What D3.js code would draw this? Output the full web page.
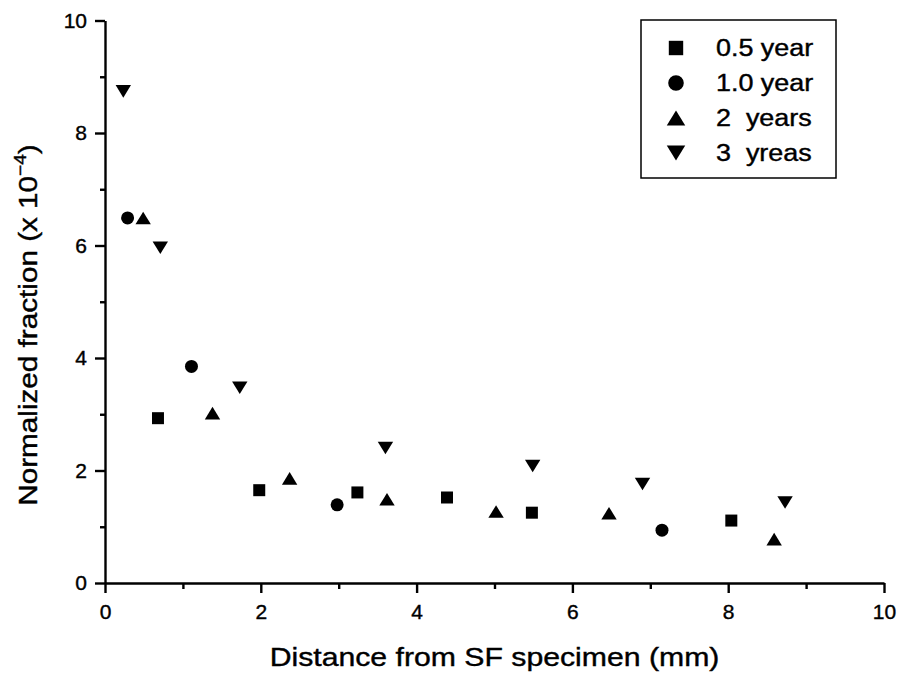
<!DOCTYPE html>
<html>
  <head>
    <title>Normalized fraction vs distance</title>
    <script src="https://d3js.org/d3.v7.min.js"></script>
    <style>
      body { margin: 0; background: #fff; }
      text { font-family: "Liberation Sans", Arial, sans-serif; fill: #000; stroke: #000; stroke-width: 0.4px; }
    </style>
  </head>
  <body>
    <div id="chart"></div>
    <script>
      // series values (x = mm, y = x 10^-4)
      const seriesNames = ["0.5 year", "1.0 year", "2  years", "3  yreas"];
      const halfYearX = [0.68, 1.98, 3.24, 4.39, 5.48, 8.04];
      const halfYearY = [2.93, 1.65, 1.61, 1.52, 1.25, 1.11];
      const oneYearX = [0.29, 1.11, 2.98, 7.15];
      const oneYearY = [6.49, 3.85, 1.39, 0.94];
      const twoYearX = [0.49, 1.38, 2.37, 3.62, 5.02, 6.47, 8.59];
      const twoYearY = [6.49, 3.02, 1.86, 1.49, 1.27, 1.24, 0.78];
      const threeYearX = [0.235, 0.71, 1.73, 3.60, 5.49, 6.90, 8.73];
      const threeYearY = [8.74, 5.96, 3.47, 2.40, 2.08, 1.76, 1.43];
      const majorTicks = [0, 2, 4, 6, 8, 10];
      const minorTicks = [1, 3, 5, 7, 9];

      const width = 899,
        height = 674;
      const plotLeft = 105,
        plotRight = 884,
        plotTop = 20.5,
        plotBottom = 583;

      const svg = d3
        .select("#chart")
        .append("svg")
        .attr("width", width)
        .attr("height", height);

      const x = d3.scaleLinear().domain([0, 10]).range([plotLeft, plotRight]);
      const y = d3.scaleLinear().domain([0, 10]).range([plotBottom, plotTop]);

      // marker shapes, drawn around (0,0)
      const shapes = {
        square: (s) => `M${-s / 2},${-s / 2}h${s}v${s}h${-s}Z`,
        circle: (s) =>
          `M${s / 2},0A${s / 2},${s / 2} 0 1,1 ${-s / 2},0A${s / 2},${s / 2} 0 1,1 ${s / 2},0Z`,
        up: (s) => `M0,${-s * 0.45}L${s * 0.55},${s * 0.45}L${-s * 0.55},${s * 0.45}Z`,
        down: (s) => `M0,${s * 0.45}L${s * 0.55},${-s * 0.45}L${-s * 0.55},${-s * 0.45}Z`,
      };

      const series = [
        { name: seriesNames[0], shape: "square", size: 12, xs: halfYearX, ys: halfYearY },
        { name: seriesNames[1], shape: "circle", size: 13, xs: oneYearX, ys: oneYearY },
        { name: seriesNames[2], shape: "up", size: 14, xs: twoYearX, ys: twoYearY },
        { name: seriesNames[3], shape: "down", size: 14, xs: threeYearX, ys: threeYearY },
      ];

      // thicker black axis lines, like the scanned original
      function styleAxis(g) {
        g.selectAll("path, line").attr("stroke", "#000").attr("stroke-width", 2.4);
        g.selectAll("text").style("font-size", "21px");
      }

      // X axis
      svg
        .append("g")
        .attr("transform", `translate(0,${plotBottom})`)
        .call(
          d3.axisBottom(x).tickValues(majorTicks).tickSize(10).tickSizeOuter(0).tickPadding(11)
        )
        .call(styleAxis);
      svg
        .append("g")
        .attr("transform", `translate(0,${plotBottom})`)
        .call(d3.axisBottom(x).tickValues(minorTicks).tickSize(6).tickSizeOuter(0).tickFormat(""))
        .call(styleAxis)
        .select(".domain")
        .remove();

      // Y axis
      svg
        .append("g")
        .attr("transform", `translate(${plotLeft},0)`)
        .call(d3.axisLeft(y).tickValues(majorTicks).tickSize(10).tickSizeOuter(0).tickPadding(8))
        .call(styleAxis);
      svg
        .append("g")
        .attr("transform", `translate(${plotLeft},0)`)
        .call(d3.axisLeft(y).tickValues(minorTicks).tickSize(5).tickSizeOuter(0).tickFormat(""))
        .call(styleAxis)
        .select(".domain")
        .remove();

      // points
      series.forEach((s) => {
        svg
          .append("g")
          .selectAll("path")
          .data(d3.zip(s.xs, s.ys))
          .join("path")
          .attr("transform", (d) => `translate(${x(d[0])},${y(d[1])})`)
          .attr("d", shapes[s.shape](s.size))
          .attr("fill", "#000");
      });

      // axis titles
      svg
        .append("text")
        .attr("transform", `translate(${(plotLeft + plotRight) / 2},666) scale(1.14,1)`)
        .attr("text-anchor", "middle")
        .style("font-size", "26.5px")
        .text("Distance from SF specimen (mm)");

      const yTitle = svg
        .append("text")
        .attr("transform", `translate(37,325) rotate(-90) scale(1.12,1)`)
        .attr("text-anchor", "middle")
        .style("font-size", "26.5px");
      yTitle.append("tspan").text("Normalized fraction (x 10");
      yTitle.append("tspan").attr("dy", -11).style("font-size", "17px").text("\u22124");
      yTitle.append("tspan").attr("dy", 11).text(")");

      // legend
      const legend = svg.append("g");
      legend
        .append("rect")
        .attr("x", 641)
        .attr("y", 20)
        .attr("width", 195)
        .attr("height", 158)
        .attr("fill", "none")
        .attr("stroke", "#000")
        .attr("stroke-width", 1.5);
      series.forEach((s, i) => {
        const ry = 48 + i * 35;
        legend
          .append("path")
          .attr("transform", `translate(676,${ry})`)
          .attr("d", shapes[s.shape](s.size * 1.2))
          .attr("fill", "#000");
        legend
          .append("text")
          .attr("transform", `translate(716,${ry}) scale(1.17,1)`)
          .attr("dy", "0.36em")
          .style("font-size", "23px")
          .style("white-space", "pre")
          .text(s.name);
      });
    </script>
  </body>
</html>
